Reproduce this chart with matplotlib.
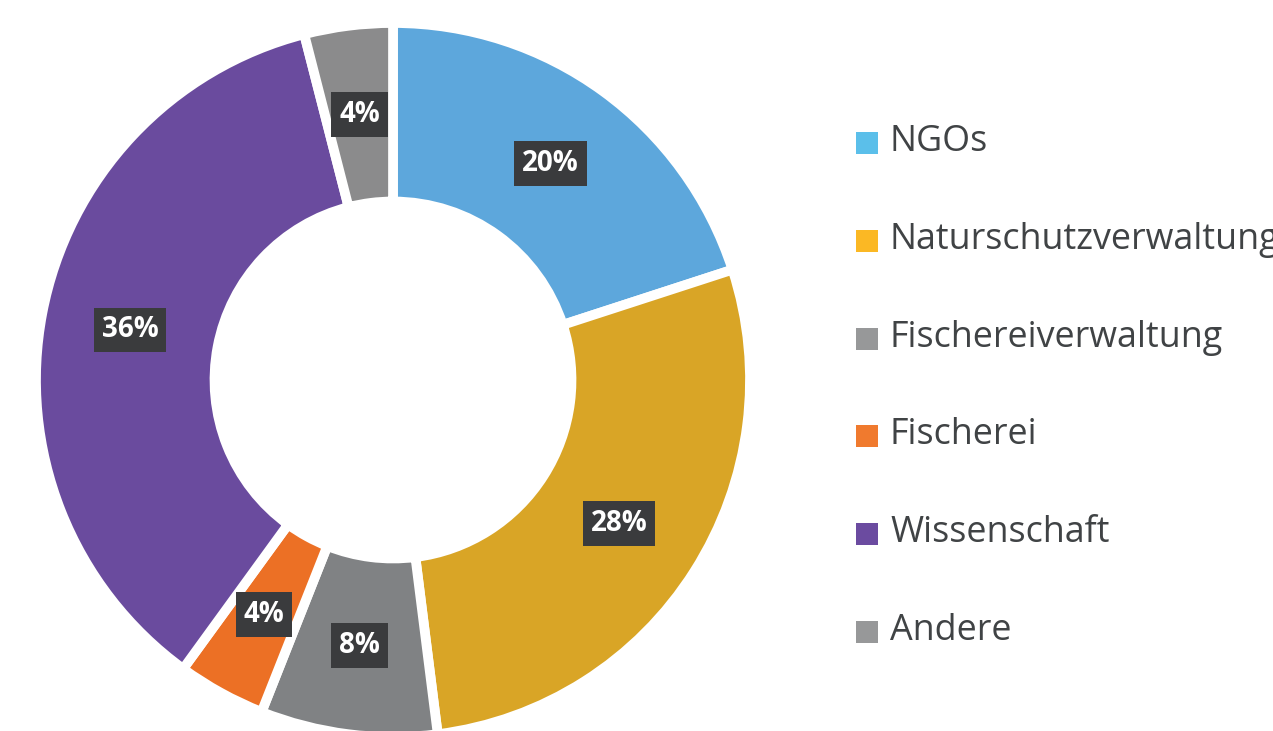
import matplotlib
matplotlib.use('Agg')
import matplotlib.pyplot as plt
from matplotlib.patches import Rectangle

### Data ###
labels = ['NGOs', 'Naturschutzverwaltung', 'Fischereiverwaltung',
          'Fischerei', 'Wissenschaft', 'Andere']
shares = [20, 28, 8, 4, 36, 4]
slice_colors = ['#5DA7DC', '#D9A526', '#808284', '#EC7025', '#6A4B9E', '#8B8B8C']
legend_colors = ['#5BBFEA', '#FBB824', '#979899', '#F07A2E', '#6B4BA0', '#979899']

W, H = 1273, 731
fig = plt.figure(figsize=(W / 100, H / 100), dpi=100)

# donut geometry in pixels (center, outer radius)
cx, cy, R = 393, 351, 357
ax = fig.add_axes([(cx - R) / W, (cy - R) / H, 2 * R / W, 2 * R / H])
ax.axis('off')

wedges, texts, autotexts = ax.pie(
    shares, colors=slice_colors, radius=1, startangle=90, counterclock=False,
    wedgeprops=dict(width=0.5, edgecolor='white', linewidth=7),
    autopct='%d%%', pctdistance=0.75,
    textprops=dict(color='white', fontsize=20, fontweight='bold',
                   family='Open Sans'))

ax.set_xlim(-1, 1)
ax.set_ylim(-1, 1)
ax.set_aspect('equal')

for t in autotexts:
    t.set_bbox(dict(boxstyle='square,pad=0.28', facecolor='#3A3B3D',
                    edgecolor='none'))

# Legend (the long label runs off the right edge, as in the original)
x_box = 856
y0 = 143
step = 97.8
for i in range(len(labels)):
    y = H - (y0 + i * step)
    fig.patches.append(Rectangle((x_box / W, (y - 11) / H), 22 / W, 22 / H,
                                 transform=fig.transFigure,
                                 facecolor=legend_colors[i], edgecolor='none'))
    fig.text(890 / W, (y + 1) / H, labels[i], fontsize=25.8, color='#404345',
             family='Open Sans', va='center', ha='left')

fig.savefig('out.png', dpi=100, facecolor='white')
